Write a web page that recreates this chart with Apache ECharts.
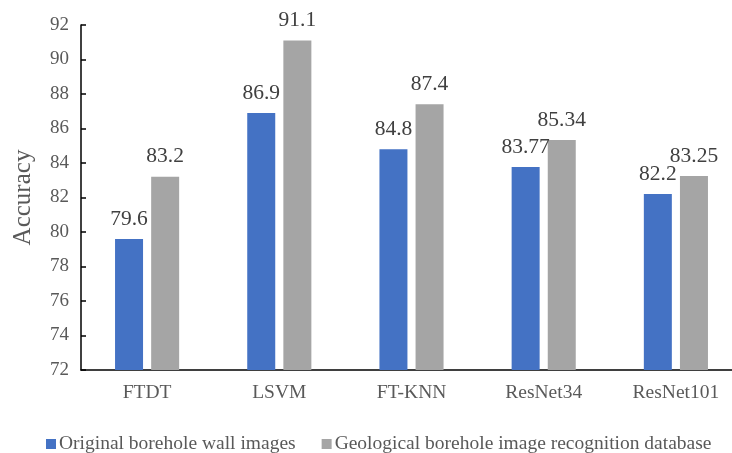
<!DOCTYPE html>
<html>
<head>
<meta charset="utf-8">
<script src="https://cdn.jsdelivr.net/npm/echarts@6/dist/echarts.min.js"></script>
<style>
  html, body { margin: 0; padding: 0; background: #fff; overflow: hidden; }
  /* the x axis runs on past the right edge of the 732px view */
  #chart { width: 760px; height: 453px; }
</style>
</head>
<body>
<div id="chart"></div>
<script>
// Model names along the x axis
const categories = ['FTDT', 'LSVM', 'FT-KNN', 'ResNet34', 'ResNet101'];
// Accuracy on the original borehole wall images
const originalImages = [79.6, 86.9, 84.8, 83.77, 82.2];
// Accuracy on the geological borehole image recognition database
const recognitionDb = [83.2, 91.1, 87.4, 85.34, 83.25];
const seriesNames = ['Original borehole wall images', 'Geological borehole image recognition database'];

const FONT = '"Liberation Serif", "Times New Roman", serif';

const chart = echarts.init(document.getElementById('chart'));

const labelStyle = {
  show: true,
  position: 'top',
  distance: 9,
  fontFamily: FONT,
  fontSize: 21.5,
  color: '#404040',
  formatter: p => String(p.value)
};

chart.setOption({
  animation: false,
  textStyle: { fontFamily: FONT },
  grid: { left: 81, top: 25, height: 345, width: 661 },
  legend: {
    left: 41,
    top: 429,
    itemWidth: 10,
    itemHeight: 10,
    itemGap: 26,
    icon: 'rect',
    textStyle: { fontFamily: FONT, fontSize: 19.5, color: '#595959', padding: [0, 0, 0, -2] },
    data: seriesNames
  },
  xAxis: {
    type: 'category',
    data: categories,
    axisLine: { lineStyle: { color: '#000', width: 1.5 } },
    axisTick: { show: false },
    axisLabel: { fontFamily: FONT, fontSize: 19.5, color: '#595959', margin: 13 }
  },
  yAxis: {
    type: 'value',
    min: 72,
    max: 92,
    interval: 2,
    name: 'Accuracy',
    nameLocation: 'middle',
    nameGap: 45,
    nameTextStyle: { fontFamily: FONT, fontSize: 25, color: '#595959' },
    axisLine: { show: true, lineStyle: { color: '#000', width: 1.5 } },
    axisTick: { show: true, inside: true, length: 5, lineStyle: { color: '#000', width: 1.5 } },
    splitLine: { show: false },
    axisLabel: { fontFamily: FONT, fontSize: 19, color: '#595959', margin: 12 }
  },
  series: [
    {
      name: seriesNames[0],
      type: 'bar',
      data: originalImages,
      barWidth: 28,
      barGap: '29%',
      itemStyle: { color: '#4472C4' },
      label: labelStyle
    },
    {
      name: seriesNames[1],
      type: 'bar',
      data: recognitionDb,
      barWidth: 28,
      itemStyle: { color: '#A5A5A5' },
      label: labelStyle
    }
  ]
});
</script>
</body>
</html>
